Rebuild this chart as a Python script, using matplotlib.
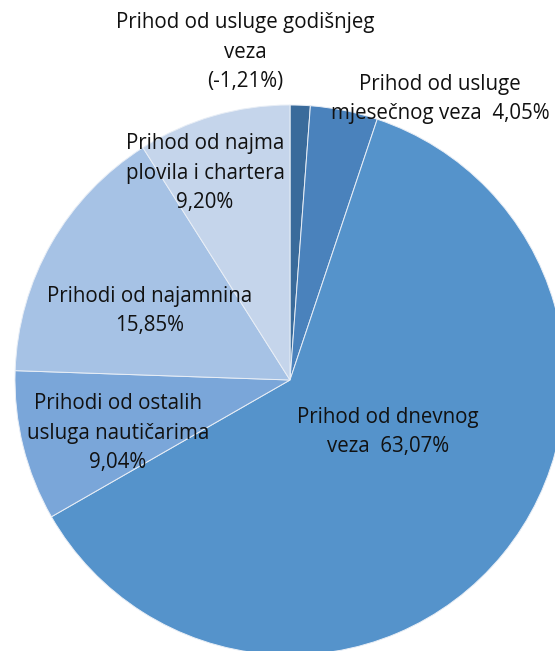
import matplotlib
matplotlib.use("Agg")
import matplotlib.pyplot as plt

categories = [
    "Prihod od usluge godišnjeg veza",
    "Prihod od usluge mjesečnog veza",
    "Prihod od dnevnog veza",
    "Prihodi od ostalih usluga nautičarima",
    "Prihodi od najamnina",
    "Prihod od najma plovila i chartera",
]
values = [-1.21, 4.05, 63.07, 9.04, 15.85, 9.20]
label_texts = [
    "Prihod od usluge godišnjeg\nveza\n(-1,21%)",
    "Prihod od usluge\nmjesečnog veza  4,05%",
    "Prihod od dnevnog\nveza  63,07%",
    "Prihodi od ostalih\nusluga nautičarima\n9,04%",
    "Prihodi od najamnina\n15,85%",
    "Prihod od najma\nplovila i chartera\n9,20%",
]
colors = ["#3A6B9B", "#4A82BC", "#5593CB", "#7AA6D9", "#A6C2E5", "#C5D5EB"]

W, H = 555, 651
fig = plt.figure(figsize=(W / 100, H / 100), dpi=100)
ax = fig.add_axes([0, 0, 1, 1])

cx, cy, R = 290, H - 380, 275
ax.pie([abs(v) for v in values], colors=colors, startangle=90, counterclock=False,
       center=(cx, cy), radius=R, frame=True,
       wedgeprops=dict(edgecolor="#E8EEF6", linewidth=0.7))
ax.set_xlim(0, W)
ax.set_ylim(0, H)
ax.set_aspect("equal")
ax.axis("off")

label_pos = [(245, 52), (440, 99), (388, 432), (118, 433), (150, 311), (205, 173)]
for txt, (x, y) in zip(label_texts, label_pos):
    ax.text(x, H - y, txt, ha="center", va="center", fontsize=14.8,
            family="Open Sans", color="#111111", linespacing=1.55)

fig.savefig("out.png", dpi=100)
